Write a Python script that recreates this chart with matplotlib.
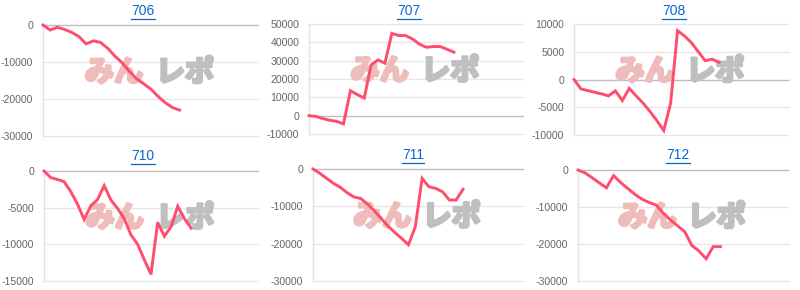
import numpy as np
import matplotlib
matplotlib.use('Agg')
import matplotlib.pyplot as plt
from matplotlib.lines import Line2D
import matplotlib.patheffects as pe

# ---- data ----
titles = ['706', '707', '708', '710', '711', '712']

s706 = [0, -1350, -630, -1200, -2000, -3150, -5100, -4300, -4700, -6300,
        -8400, -10200, -12500, -14500, -15900, -17300, -19300, -21000, -22300, -23000]
s707 = [0, -400, -1600, -2500, -3100, -4500, 13600, 11500, 9600, 27700, 30400,
        28600, 44900, 43700, 43700, 41800, 39000, 37300, 37700, 37700, 36200, 34600]
s708 = [0, -1700, -2000, -2300, -2600, -2950, -2050, -3800, -1600, -2950, -4250,
        -5750, -7400, -9200, -4250, 8800, 7850, 6650, 5000, 3400, 3650, 3100]
s710 = [0, -900, -1150, -1450, -2800, -4500, -6600, -4750, -3900, -2000, -3950,
        -5100, -6500, -8700, -10000, -12100, -14100, -7000, -8900, -7600, -4800,
        -6500, -7800]
s711 = [0, -1150, -2500, -3850, -4900, -6350, -7500, -7900, -9400, -11200, -13250,
        -15300, -17000, -18600, -20300, -15500, -2500, -4750, -5200, -6100, -8300,
        -8300, -5450]
s712 = [0, -800, -2100, -3500, -4800, -1500, -3400, -5000, -6600, -7900, -8800,
        -9500, -11700, -13500, -15100, -16700, -20400, -21900, -24000, -20700, -20700]
series = [s706, s707, s708, s710, s711, s712]

yticks = [
    [-30000, -20000, -10000, 0],
    [-10000, 0, 10000, 20000, 30000, 40000, 50000],
    [-10000, -5000, 0, 5000, 10000],
    [-15000, -10000, -5000, 0],
    [-30000, -20000, -10000, 0],
    [-30000, -20000, -10000, 0],
]

# ---- layout (pixels) ----
W, H = 800, 290
boxes = [
    (43, 258, 25, 136),
    (309, 523, 24, 134),
    (574, 788, 24, 135),
    (44, 258, 171, 281),
    (313, 523, 169, 281),
    (578, 788, 170, 281),
]
xmax = [29.9, 31.0, 31.0, 32.0, 30.8, 29.5]
title_pos = [(143, 11), (409, 11), (674, 11), (143, 156), (413, 155), (678, 155)]

line_color = '#ff4d6d'
link_color = '#0a66cc'

plt.rcParams['font.family'] = ['Liberation Sans', 'DejaVu Sans']

fig = plt.figure(figsize=(W / 100, H / 100), dpi=100)
fig.patch.set_facecolor('white')

for i, (l, r, t, b) in enumerate(boxes):
    ax = fig.add_axes([l / W, (H - b) / H, (r - l) / W, (b - t) / H])
    vals = series[i]
    ticks = yticks[i]
    ax.set_xlim(0, xmax[i])
    ax.set_ylim(min(ticks), max(ticks))
    for v in ticks:
        c = '#bdbdbd' if v == 0 else '#e6e6e6'
        ax.axhline(v, color=c, lw=1.0, zorder=1, clip_on=False)
    for sp in ['top', 'right', 'bottom']:
        ax.spines[sp].set_visible(False)
    ax.spines['left'].set_color('#e2e2e2')
    ax.spines['left'].set_linewidth(1.0)
    ax.set_xticks([])
    ax.set_yticks(ticks)
    ax.set_yticklabels([str(v) for v in ticks])
    ax.tick_params(axis='y', length=0, pad=7, labelsize=7.6, labelcolor='#666666')
    ax.set_facecolor('none')

    # watermark
    for txt, xc, col in (('みん', 0.33, '#efbcbc'), ('レポ', 0.66, '#bfbfbf')):
        ax.text(xc, 0.575, txt, transform=ax.transAxes, ha='center', va='center',
                fontsize=21, fontweight='bold', color=col, fontstyle='italic',
                family=['Noto Sans CJK JP', 'DejaVu Sans'], zorder=2,
                path_effects=[pe.withStroke(linewidth=2.2, foreground=col)])

    x = np.arange(len(vals))
    ax.plot(x, vals, color=line_color, lw=2.1, solid_joinstyle='miter',
            zorder=5, clip_on=False)

# titles with underline
renderer = fig.canvas.get_renderer()
for i, (tx, ty) in enumerate(title_pos):
    t = fig.text(tx / W, 1 - ty / H, titles[i], ha='center', va='center',
                 fontsize=10, color=link_color)
    bb = t.get_window_extent(renderer=renderer)
    yline = (bb.y0 - 0.5) / H
    fig.add_artist(Line2D([bb.x0 / W, bb.x1 / W], [yline, yline],
                          color=link_color, lw=0.9, transform=fig.transFigure))

fig.savefig('out.png', dpi=100, facecolor='white')
